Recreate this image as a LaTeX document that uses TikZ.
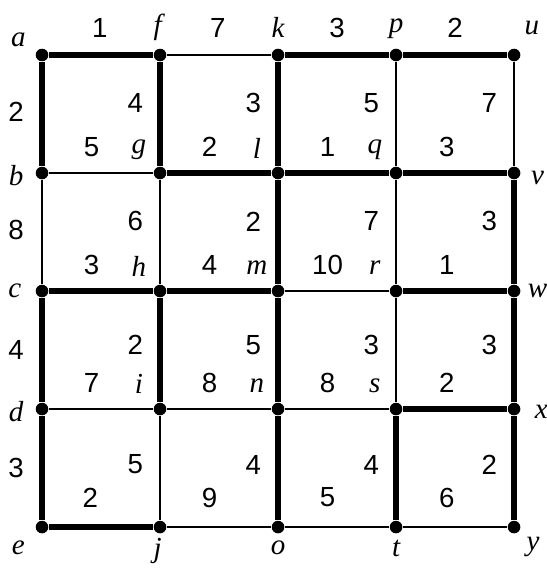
\documentclass[tikz,border=0pt]{standalone}
\usepackage{fontspec}
\setmainfont{Liberation Sans}
\newfontfamily\vnamefont{Liberation Serif}
\tikzset{
  vtx/.style={circle,fill=black,inner sep=0pt,minimum size=1.6mm},
  gridedge/.style={line width=0.7pt,draw=black},
  treeedge/.style={line width=2.1pt,draw=black},
  wt/.style={font=\fontsize{10}{12}\selectfont,inner sep=1pt},
  vname/.style={font=\vnamefont\itshape\fontsize{10.5}{12}\selectfont,inner sep=1pt}
}
\begin{document}
\begin{tikzpicture}[x=1.5cm,y=1.5cm]
  \useasboundingbox (-0.356,0.466) rectangle (4.271,-4.347);
  % vertices
  \node[vtx] (a) at (0,0) {}; \node[vtx] (f) at (1,0) {}; \node[vtx] (k) at (2,0) {};
  \node[vtx] (p) at (3,0) {}; \node[vtx] (u) at (4,0) {};
  \node[vtx] (b) at (0,-1) {}; \node[vtx] (g) at (1,-1) {}; \node[vtx] (l) at (2,-1) {};
  \node[vtx] (q) at (3,-1) {}; \node[vtx] (v) at (4,-1) {};
  \node[vtx] (c) at (0,-2) {}; \node[vtx] (h) at (1,-2) {}; \node[vtx] (m) at (2,-2) {};
  \node[vtx] (r) at (3,-2) {}; \node[vtx] (w) at (4,-2) {};
  \node[vtx] (d) at (0,-3) {}; \node[vtx] (i) at (1,-3) {}; \node[vtx] (n) at (2,-3) {};
  \node[vtx] (s) at (3,-3) {}; \node[vtx] (x) at (4,-3) {};
  \node[vtx] (e) at (0,-4) {}; \node[vtx] (j) at (1,-4) {}; \node[vtx] (o) at (2,-4) {};
  \node[vtx] (t) at (3,-4) {}; \node[vtx] (y) at (4,-4) {};
  % horizontal edges
  \draw[treeedge] (a) -- (f); \draw[gridedge] (f) -- (k); \draw[treeedge] (k) -- (p); \draw[treeedge] (p) -- (u);
  \draw[gridedge] (b) -- (g); \draw[treeedge] (g) -- (l); \draw[treeedge] (l) -- (q); \draw[treeedge] (q) -- (v);
  \draw[treeedge] (c) -- (h); \draw[treeedge] (h) -- (m); \draw[gridedge] (m) -- (r); \draw[treeedge] (r) -- (w);
  \draw[gridedge] (d) -- (i); \draw[gridedge] (i) -- (n); \draw[gridedge] (n) -- (s); \draw[treeedge] (s) -- (x);
  \draw[treeedge] (e) -- (j); \draw[gridedge] (j) -- (o); \draw[gridedge] (o) -- (t); \draw[gridedge] (t) -- (y);
  % vertical edges
  \draw[treeedge] (a) -- (b); \draw[gridedge] (b) -- (c); \draw[treeedge] (c) -- (d); \draw[treeedge] (d) -- (e);
  \draw[treeedge] (f) -- (g); \draw[gridedge] (g) -- (h); \draw[treeedge] (h) -- (i); \draw[gridedge] (i) -- (j);
  \draw[treeedge] (k) -- (l); \draw[treeedge] (l) -- (m); \draw[treeedge] (m) -- (n); \draw[treeedge] (n) -- (o);
  \draw[gridedge] (p) -- (q); \draw[gridedge] (q) -- (r); \draw[gridedge] (r) -- (s); \draw[treeedge] (s) -- (t);
  \draw[gridedge] (u) -- (v); \draw[treeedge] (v) -- (w); \draw[treeedge] (w) -- (x); \draw[treeedge] (x) -- (y);
  % vertex names
  \node[vname] (na) at (-0.2,0.13) {a}; \node[vname] (nf) at (0.98,0.23) {f}; \node[vname] (nk) at (2,0.23) {k};
  \node[vname] (np) at (3,0.22) {p}; \node[vname] (nu) at (4.15,0.23) {u};
  \node[vname] (nb) at (-0.22,-1.02) {b}; \node[vname] (nc) at (-0.23,-2.0) {c}; \node[vname] (nd) at (-0.22,-3.02) {d};
  \node[vname] (nv) at (4.2,-1.04) {v}; \node[vname] (nw) at (4.2,-2.0) {w}; \node[vname] (nx) at (4.23,-3.02) {x};
  \node[vname] (ne) at (-0.2,-4.18) {e}; \node[vname] (nj) at (0.98,-4.2) {j}; \node[vname] (no) at (2,-4.18) {o};
  \node[vname] (nt) at (3,-4.18) {t}; \node[vname] (ny) at (4.16,-4.17) {y};
  \node[vname] (ng) at (0.82,-0.8) {g}; \node[vname] (nl) at (1.82,-0.79) {l}; \node[vname] (nq) at (2.82,-0.8) {q};
  \node[vname] (nh) at (0.82,-1.79) {h}; \node[vname] (nm) at (1.82,-1.8) {m}; \node[vname] (nr) at (2.82,-1.8) {r};
  \node[vname] (ni) at (0.82,-2.79) {i}; \node[vname] (nn) at (1.82,-2.8) {n}; \node[vname] (ns) at (2.82,-2.8) {s};
  % weights, outer
  \node[wt] (waf) at (0.49,0.23) {1}; \node[wt] (wfk) at (1.49,0.23) {7};
  \node[wt] (wkp) at (2.5,0.23) {3}; \node[wt] (wpu) at (3.5,0.23) {2};
  \node[wt] (wab) at (-0.22,-0.48) {2}; \node[wt] (wbc) at (-0.22,-1.48) {8};
  \node[wt] (wcd) at (-0.22,-2.5) {4}; \node[wt] (wde) at (-0.22,-3.5) {3};
  % weights, vertical edges
  \node[wt] (wfg) at (0.79,-0.41) {4}; \node[wt] (wkl) at (1.79,-0.41) {3};
  \node[wt] (wpq) at (2.79,-0.41) {5}; \node[wt] (wuv) at (3.79,-0.41) {7};
  \node[wt] (wgh) at (0.79,-1.41) {6}; \node[wt] (wlm) at (1.79,-1.41) {2};
  \node[wt] (wqr) at (2.79,-1.41) {7}; \node[wt] (wvw) at (3.79,-1.41) {3};
  \node[wt] (whi) at (0.79,-2.46) {2}; \node[wt] (wmn) at (1.79,-2.46) {5};
  \node[wt] (wrs) at (2.79,-2.46) {3}; \node[wt] (wwx) at (3.79,-2.46) {3};
  \node[wt] (wij) at (0.79,-3.47) {5}; \node[wt] (wno) at (1.79,-3.47) {4};
  \node[wt] (wst) at (2.79,-3.47) {4}; \node[wt] (wxy) at (3.79,-3.47) {2};
  % weights, horizontal edges
  \node[wt] (wbg) at (0.42,-0.78) {5}; \node[wt] (wgl) at (1.42,-0.78) {2};
  \node[wt] (wlq) at (2.42,-0.78) {1}; \node[wt] (wqv) at (3.43,-0.78) {3};
  \node[wt] (wch) at (0.42,-1.78) {3}; \node[wt] (whm) at (1.42,-1.78) {4};
  \node[wt] (wmr) at (2.42,-1.78) {10}; \node[wt] (wrw) at (3.43,-1.78) {1};
  \node[wt] (wdi) at (0.42,-2.78) {7}; \node[wt] (win) at (1.42,-2.78) {8};
  \node[wt] (wns) at (2.42,-2.78) {8}; \node[wt] (wsx) at (3.43,-2.78) {2};
  \node[wt] (wej) at (0.41,-3.75) {2}; \node[wt] (wjo) at (1.42,-3.75) {9};
  \node[wt] (wot) at (2.42,-3.75) {5}; \node[wt] (wty) at (3.43,-3.75) {6};
\end{tikzpicture}
\end{document}
